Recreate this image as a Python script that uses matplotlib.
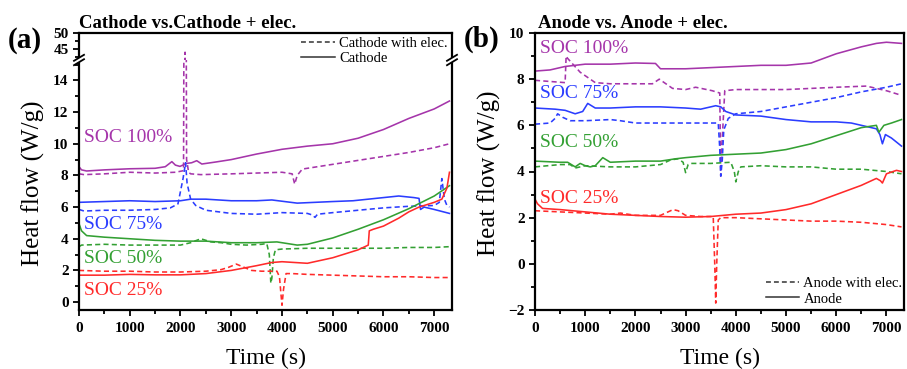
import matplotlib
matplotlib.use('Agg')
import matplotlib.pyplot as plt
from matplotlib.ticker import MultipleLocator
from matplotlib.lines import Line2D
from matplotlib.patches import Rectangle

plt.rcParams['font.family'] = ['Liberation Serif', 'DejaVu Serif']

PURPLE = '#A535AA'
BLUE = '#2B3DFF'
GREEN = '#33A033'
RED = '#FF2A2A'

# ---------------- Panel (a): Cathode ----------------
a100_t = [0, 50, 150, 500, 1000, 1500, 1700, 1830, 1900, 1990, 2120, 2220, 2320, 2420, 2700, 3000, 3500, 4000, 4500, 5000, 5500, 6000, 6500, 7000, 7300]
a100_v = [8.55, 8.35, 8.28, 8.35, 8.42, 8.45, 8.55, 8.87, 8.65, 8.57, 8.76, 8.8, 8.93, 8.72, 8.85, 9.0, 9.35, 9.65, 9.85, 10.0, 10.35, 10.9, 11.6, 12.2, 12.7]
a100e_t = [0, 100, 500, 1000, 1500, 1900, 2060, 2090, 2120, 2160, 2200, 2400, 3000, 3500, 4000, 4200, 4250, 4300, 4400, 5000, 5500, 6000, 6500, 7000, 7300]
a100e_v = [8.1, 8.05, 8.1, 8.2, 8.15, 8.2, 8.3, 44.0, 9.0, 8.2, 8.1, 8.05, 8.1, 8.15, 8.2, 8.1, 7.45, 8.0, 8.4, 8.7, 8.95, 9.2, 9.45, 9.75, 10.0]

a75_t = [0, 500, 1000, 1500, 2000, 2200, 2500, 3000, 3500, 3800, 4300, 5000, 5400, 6000, 6300, 6600, 6700, 6730, 6800, 7000, 7300]
a75_v = [6.3, 6.35, 6.4, 6.35, 6.4, 6.5, 6.5, 6.4, 6.4, 6.45, 6.25, 6.35, 6.4, 6.6, 6.7, 6.6, 6.55, 5.85, 6.0, 5.85, 5.6]
a75e_t = [0, 100, 500, 1000, 1500, 1800, 1950, 2050, 2100, 2130, 2200, 2300, 2500, 3000, 3500, 4000, 4500, 4600, 4650, 4700, 5000, 5500, 6000, 6500, 7000, 7100, 7150, 7200, 7250, 7300]
a75e_v = [5.85, 5.75, 5.8, 5.8, 5.85, 5.95, 6.2, 7.8, 8.8, 7.5, 6.5, 6.1, 5.8, 5.6, 5.55, 5.65, 5.6, 5.5, 5.35, 5.55, 5.65, 5.8, 5.95, 6.05, 6.1, 6.3, 7.8, 6.5, 6.1, 6.0]

a50_t = [0, 50, 150, 500, 1000, 1500, 2000, 2500, 3000, 3500, 3900, 4000, 4300, 4500, 5000, 5500, 6000, 6500, 7000, 7300]
a50_v = [4.95, 4.5, 4.2, 4.1, 4.0, 3.9, 3.85, 3.85, 3.75, 3.75, 3.8, 3.75, 3.6, 3.65, 4.05, 4.6, 5.2, 5.9, 6.7, 7.35]
a50e_t = [0, 50, 500, 1000, 1500, 2000, 2200, 2400, 2600, 2800, 3000, 3300, 3600, 3700, 3750, 3780, 3800, 3830, 3870, 4000, 4500, 5000, 5500, 6000, 6500, 7000, 7300]
a50e_v = [3.5, 3.6, 3.65, 3.6, 3.6, 3.6, 3.75, 4.0, 3.8, 3.75, 3.65, 3.6, 3.65, 3.7, 3.0, 1.2, 1.5, 2.8, 3.3, 3.35, 3.4, 3.4, 3.4, 3.4, 3.45, 3.45, 3.5]

a25_t = [0, 500, 1000, 1500, 2000, 2500, 3000, 3500, 3800, 4000, 4500, 5000, 5500, 5700, 5720, 5800, 6000, 6300, 6500, 6700, 7000, 7150, 7250, 7300]
a25_v = [1.7, 1.7, 1.75, 1.72, 1.72, 1.8, 2.0, 2.3, 2.5, 2.55, 2.45, 2.8, 3.3, 3.6, 4.5, 4.6, 4.8, 5.3, 5.7, 6.0, 6.3, 6.5, 7.2, 8.2]
a25e_t = [0, 500, 1000, 1500, 2000, 2500, 2800, 2950, 3100, 3250, 3400, 3600, 3900, 3950, 3980, 4000, 4030, 4080, 4200, 4500, 5000, 5500, 6000, 6500, 7000, 7300]
a25e_v = [2.0, 1.95, 1.95, 1.9, 1.9, 1.95, 2.05, 2.2, 2.4, 2.2, 2.0, 1.95, 1.95, 1.6, 0.5, -0.2, 0.8, 1.8, 1.8, 1.75, 1.7, 1.65, 1.6, 1.6, 1.55, 1.55]

# ---------------- Panel (b): Anode ----------------
b100_t = [0, 300, 600, 1000, 1500, 2000, 2400, 2500, 3000, 3500, 4000, 4500, 5000, 5500, 6000, 6500, 6800, 7000, 7300]
b100_v = [8.35, 8.4, 8.55, 8.65, 8.65, 8.7, 8.68, 8.45, 8.45, 8.5, 8.55, 8.6, 8.6, 8.7, 9.1, 9.4, 9.55, 9.6, 9.55]
b100e_t = [0, 300, 600, 620, 650, 900, 1200, 1500, 2000, 2340, 2475, 2740, 3000, 3200, 3530, 3680, 3700, 3720, 3780, 4000, 4500, 5000, 5500, 6000, 6600, 6800, 7000, 7300]
b100e_v = [7.95, 7.9, 7.85, 9.0, 8.9, 8.3, 7.85, 7.8, 7.8, 7.8, 8.0, 7.6, 7.55, 7.65, 7.5, 7.4, 3.8, 5.0, 7.5, 7.55, 7.55, 7.55, 7.6, 7.65, 7.7, 7.6, 7.5, 7.3]

b75_t = [0, 400, 600, 800, 950, 1050, 1200, 1500, 2000, 2500, 3000, 3300, 3500, 3600, 3700, 3800, 4000, 4500, 5000, 5500, 6000, 6300, 6600, 6800, 6870, 6920, 6980, 7100, 7300]
b75_v = [6.75, 6.7, 6.65, 6.5, 6.6, 6.95, 6.75, 6.75, 6.8, 6.8, 6.75, 6.7, 6.8, 6.85, 6.8, 6.6, 6.45, 6.4, 6.25, 6.15, 6.15, 6.1, 5.95, 5.85, 5.6, 5.2, 5.6, 5.45, 5.1]
b75e_t = [0, 300, 400, 450, 550, 700, 1000, 1500, 1700, 2000, 2500, 3000, 3500, 3650, 3680, 3700, 3730, 3760, 3850, 4000, 4500, 5000, 5500, 6000, 6500, 7000, 7300]
b75e_v = [6.05, 6.1, 6.3, 6.5, 6.35, 6.2, 6.2, 6.25, 6.2, 6.1, 6.1, 6.1, 6.1, 6.1, 5.0, 3.8, 4.5, 5.8, 6.3, 6.5, 6.6, 6.8, 7.0, 7.2, 7.45, 7.65, 7.8]

b50_t = [0, 500, 650, 800, 900, 1000, 1100, 1200, 1350, 1500, 2000, 2500, 2800, 3000, 3500, 4000, 4500, 5000, 5500, 6000, 6500, 6800, 6850, 6950, 7100, 7300]
b50_v = [4.45, 4.4, 4.4, 4.2, 4.35, 4.25, 4.2, 4.25, 4.6, 4.4, 4.45, 4.45, 4.55, 4.6, 4.7, 4.75, 4.8, 4.95, 5.2, 5.55, 5.9, 6.0, 5.7, 6.0, 6.1, 6.25]
b50e_t = [0, 500, 700, 800, 1000, 1500, 2000, 2500, 2700, 2850, 2950, 3000, 3050, 3100, 3500, 3900, 3970, 4000, 4050, 4100, 4500, 5000, 5500, 6000, 6500, 7000, 7300]
b50e_v = [4.2, 4.3, 4.3, 4.15, 4.25, 4.2, 4.2, 4.3, 4.5, 4.55, 4.4, 3.95, 4.3, 4.35, 4.35, 4.4, 4.0, 3.55, 4.0, 4.2, 4.25, 4.2, 4.2, 4.1, 4.1, 4.0, 3.9]

b25_t = [0, 50, 150, 500, 1000, 1500, 2000, 2500, 3000, 3500, 4000, 4500, 5000, 5500, 6000, 6500, 6800, 6880, 6920, 7000, 7200, 7300]
b25_v = [2.8, 2.6, 2.4, 2.35, 2.25, 2.15, 2.1, 2.05, 2.02, 2.05, 2.15, 2.2, 2.35, 2.6, 3.0, 3.4, 3.7, 3.6, 3.5, 3.9, 4.05, 4.0]
b25e_t = [0, 500, 1000, 1500, 1700, 2000, 2500, 2750, 2850, 3000, 3300, 3550, 3580, 3600, 3620, 3650, 3700, 4000, 4500, 5000, 5500, 6000, 6500, 7000, 7300]
b25e_v = [2.3, 2.25, 2.2, 2.15, 2.2, 2.1, 2.1, 2.35, 2.3, 2.1, 2.05, 2.05, 0.0, -1.7, 0.0, 1.9, 2.0, 2.0, 1.95, 1.9, 1.85, 1.85, 1.8, 1.7, 1.6]

soc_labels = ['SOC 100%', 'SOC 75%', 'SOC 50%', 'SOC 25%']
soc_colors = [PURPLE, BLUE, GREEN, RED]
a_label_y = [10.4, 4.93, 2.78, 0.76]
b_label_y = [9.35, 7.4, 5.26, 2.83]

series_a = [(a100_t, a100_v, a100e_t, a100e_v), (a75_t, a75_v, a75e_t, a75e_v),
            (a50_t, a50_v, a50e_t, a50e_v), (a25_t, a25_v, a25e_t, a25e_v)]
series_b = [(b100_t, b100_v, b100e_t, b100e_v), (b75_t, b75_v, b75e_t, b75e_v),
            (b50_t, b50_v, b50e_t, b50e_v), (b25_t, b25_v, b25e_t, b25e_v)]

W, H = 907, 369
fig = plt.figure(figsize=(W / 100, H / 100), dpi=100)


def rect(l, t, r, b):
    return [l / W, 1 - b / H, (r - l) / W, (b - t) / H]


axAt = fig.add_axes(rect(79, 33, 452, 60))
axA = fig.add_axes(rect(79, 60, 452, 310))
axB = fig.add_axes(rect(535, 33, 904, 310))

LW = 1.15
DASH = (3.2, 2.0)


def style(ax):
    for s in ax.spines.values():
        s.set_linewidth(1.6)
    ax.tick_params(which='both', direction='out', top=False, right=False, width=1.3,
                   labelsize=11)
    ax.tick_params(axis='x', pad=4)
    ax.tick_params(axis='y', pad=3)
    ax.tick_params(which='major', length=4.5)
    ax.tick_params(which='minor', length=2.8)
    for lab in ax.get_xticklabels() + ax.get_yticklabels():
        lab.set_fontweight('bold')


for ax in (axAt, axA):
    for (t, v, te, ve), c in zip(series_a, soc_colors):
        ax.plot(t, v, color=c, lw=LW)
        ax.plot(te, ve, color=c, lw=LW, dashes=DASH)
    ax.set_xlim(0, 7350)

axA.set_ylim(-0.5, 15.29)
axAt.set_ylim(41.56, 50)
axA.xaxis.set_major_locator(MultipleLocator(1000))
axA.xaxis.set_minor_locator(MultipleLocator(500))
axA.yaxis.set_major_locator(MultipleLocator(2))
axA.yaxis.set_minor_locator(MultipleLocator(1))
axAt.set_yticks([45, 50])
axAt.yaxis.set_minor_locator(MultipleLocator(2.5))
axAt.set_xticks([])
axAt.spines['bottom'].set_visible(False)
axA.spines['top'].set_visible(False)
style(axA)
style(axAt)
axAt.tick_params(axis='x', which='both', bottom=False, labelbottom=False)

for (t, v, te, ve), c in zip(series_b, soc_colors):
    axB.plot(t, v, color=c, lw=LW)
    axB.plot(te, ve, color=c, lw=LW, dashes=DASH)
axB.set_xlim(0, 7350)
axB.set_ylim(-2, 10)
axB.xaxis.set_major_locator(MultipleLocator(1000))
axB.xaxis.set_minor_locator(MultipleLocator(500))
axB.yaxis.set_major_locator(MultipleLocator(2))
axB.yaxis.set_minor_locator(MultipleLocator(1))
style(axB)

# SOC labels
for lab, c, y in zip(soc_labels, soc_colors, a_label_y):
    axA.text(100, y, lab, color=c, fontsize=14, va='center', ha='left')
for lab, c, y in zip(soc_labels, soc_colors, b_label_y):
    axB.text(100, y, lab, color=c, fontsize=14, va='center', ha='left')

# axis break marks
def fx(x):
    return x / W


def fy(y):
    return 1 - y / H


for xb in (79, 452):
    fig.add_artist(Rectangle((fx(xb - 3), fy(62)), 6 / W, 4 / H, transform=fig.transFigure,
                             facecolor='white', edgecolor='none', zorder=5))
    for dy in (-2.2, 2.2):
        fig.add_artist(Line2D([fx(xb - 5), fx(xb + 5)], [fy(60 + dy + 3), fy(60 + dy - 3)],
                              transform=fig.transFigure, color='black', lw=1.3, zorder=6))

# legends
h_dash = Line2D([], [], color='#333333', lw=1.1, dashes=DASH)
h_solid = Line2D([], [], color='#333333', lw=1.1)
fig.legend([h_dash, h_solid], ['Cathode with elec.', 'Cathode'], loc='upper right',
           bbox_to_anchor=(fx(449), fy(35)), frameon=False, fontsize=10.5,
           handlelength=2.3, handletextpad=0.3, labelspacing=0.15, borderaxespad=0,
           borderpad=0.1)
fig.legend([h_dash, h_solid], ['Anode with elec.', 'Anode'], loc='lower right',
           bbox_to_anchor=(fx(904), fy(307)), frameon=False, fontsize=10.5,
           handlelength=2.3, handletextpad=0.3, labelspacing=0.15, borderaxespad=0,
           borderpad=0.1)

# titles and labels
fig.text(fx(79), fy(28), 'Cathode vs.Cathode + elec.', fontsize=13.5, fontweight='bold',
         ha='left', va='baseline')
fig.text(fx(538), fy(28), 'Anode vs. Anode + elec.', fontsize=13.5, fontweight='bold',
         ha='left', va='baseline')
fig.text(fx(8), fy(40), '(a)', fontsize=21, fontweight='bold', ha='left', va='center')
fig.text(fx(464), fy(39), '(b)', fontsize=21, fontweight='bold', ha='left', va='center')
fig.text(fx(33), fy(183), 'Heat flow (W/g)', fontsize=18, rotation=90, ha='center', va='center')
fig.text(fx(489), fy(173), 'Heat flow (W/g)', fontsize=18, rotation=90, ha='center', va='center')
fig.text(fx(266), fy(358), 'Time (s)', fontsize=17, ha='center', va='center')
fig.text(fx(720), fy(358), 'Time (s)', fontsize=17, ha='center', va='center')

fig.savefig('out.png', dpi=100)
